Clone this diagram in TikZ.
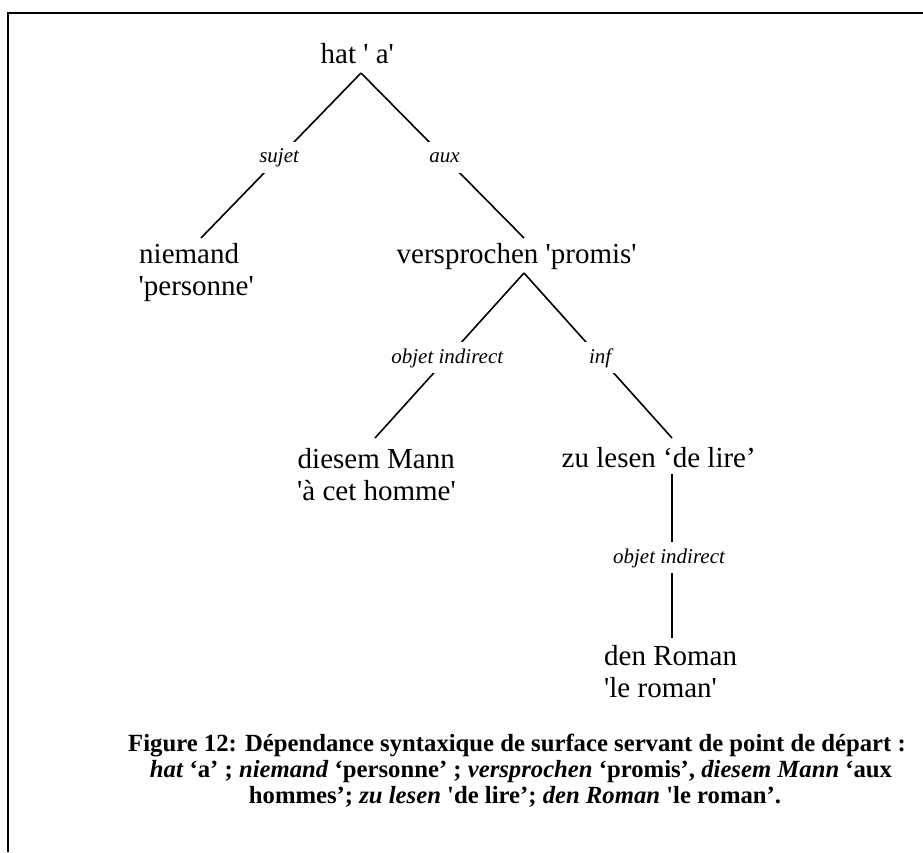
\documentclass[tikz,border=0pt]{standalone}
\usepackage{fontspec}
\setmainfont{Liberation Serif}[Ligatures=TeXOff]
\begin{document}
\begin{tikzpicture}[x=1pt, y=-1pt,
  word/.style={font=\fontsize{29}{32}\selectfont, anchor=base west, inner sep=0pt},
  rel/.style={font=\fontsize{21}{24}\selectfont\itshape, fill=white, inner sep=0pt,
              minimum height=31pt, minimum width=40pt},
  edge/.style={line width=1.6pt},
  capline/.style={font=\fontsize{24.7}{26.5}\selectfont\bfseries, anchor=base, inner sep=0pt}]
  \useasboundingbox (0,0) rectangle (923,852);

  % frame (top and left rules)
  \draw[line width=2pt] (8.3,852) -- (8.3,12.7) -- (923,12.7);

  % words of the dependency tree
  \node[word] (hat) at (320.5,63.3) {hat ' a'};
  \node[word] (niemand) at (139,263) {niemand};
  \node[word] (niemand-fr) at (138.5,295) {'personne'};
  \node[word] (vers) at (396.5,263.3) {versprochen 'promis'};
  \node[word] (diesem) at (297.5,468) {diesem Mann};
  \node[word] (diesem-fr) at (297,500) {'à cet homme'};
  \node[word] (zulesen) at (561.5,467) {zu lesen ‘de lire’};
  \node[word] (roman) at (604,665) {den Roman};
  \node[word] (roman-fr) at (604,697) {'le roman'};

  % attachment points of the dependency edges
  \coordinate (hat-foot) at (361,73);
  \coordinate (niemand-head) at (201,238);
  \coordinate (vers-head) at (524,238);
  \coordinate (vers-foot) at (524,273);
  \coordinate (diesem-head) at (375,438);
  \coordinate (zulesen-head) at (672,438);
  \coordinate (zulesen-foot) at (672,474);
  \coordinate (roman-head) at (672,638);

  % dependency edges with their relation labels
  \draw[edge] (hat-foot) -- node[rel, pos=.512] (r-sujet) {sujet} (niemand-head);
  \draw[edge] (hat-foot) -- node[rel, pos=.512] (r-aux) {aux} (vers-head);
  \draw[edge] (vers-foot) -- node[rel, pos=.515] (r-oi1) {objet indirect} (diesem-head);
  \draw[edge] (vers-foot) -- node[rel, pos=.515] (r-inf) {inf} (zulesen-head);
  \draw[edge] (zulesen-foot) -- node[rel, pos=.512, xshift=-3pt] (r-oi2) {objet indirect} (roman-head);

  % caption
  \node[capline] (cap1) at (517,751) {Figure 12: Dépendance syntaxique de surface servant de point de départ :};
  \node[capline] (cap2) at (521,777.5) {\textit{hat} ‘a’ ; \textit{niemand} ‘personne’ ; \textit{versprochen} ‘promis’, \textit{diesem Mann} ‘aux};
  \node[capline] (cap3) at (515,803.5) {hommes’; \textit{zu lesen} 'de lire’; \textit{den Roman} 'le roman’.};
\end{tikzpicture}
\end{document}
